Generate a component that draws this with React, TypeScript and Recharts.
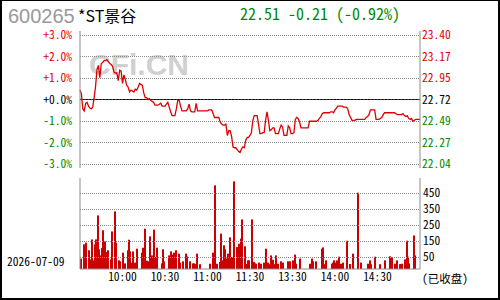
import {
  Bar,
  ComposedChart,
  Line,
  LineChart,
  XAxis,
  YAxis,
} from "recharts";

const STOCK_CODE = "600265";
const STOCK_NAME = "*ST景谷";
const QUOTE_TEXT = "22.51 -0.21 (-0.92%)";
const TRADE_DATE = "2026-07-09";
const STATUS_TEXT = "(已收盘)";
const WATERMARK = "CFi.CN";
const PREV_CLOSE = 22.72;

const PCT_STEPS = [-3, -2, -1, 0, 1, 2, 3];
const VOL_TICKS = [50, 150, 250, 350, 450];
const TIME_TICKS = [30, 60, 90, 120, 150, 180, 210];

// one price per minute: 0..120 = 9:30..11:30, 121..240 = 13:01..15:00
const prices = [
  22.82, 22.78, 22.62, 22.6, 22.68, 22.69, 22.65, 22.63, 22.62, 22.64,
  22.74, 22.86, 23.04, 23.08, 22.95, 23.1, 23.11, 23.13, 23.13, 23.14,
  23.12, 23.1, 23.09, 23.07, 23.01, 23.0, 23.0, 22.92, 23.03, 23.02,
  22.89, 22.98, 22.93, 22.87, 22.85, 22.8, 22.82, 22.81, 22.8, 22.83,
  22.82, 22.85, 22.89, 22.88, 22.87, 22.79, 22.74, 22.74, 22.72, 22.73,
  22.71, 22.7, 22.69, 22.66, 22.66, 22.66, 22.67, 22.68, 22.65, 22.65,
  22.65, 22.67, 22.69, 22.64, 22.59, 22.55, 22.55, 22.55, 22.62, 22.71,
  22.71, 22.65, 22.6, 22.6, 22.6, 22.6, 22.62, 22.67, 22.6, 22.59,
  22.59, 22.59, 22.68, 22.6, 22.6, 22.6, 22.6, 22.6, 22.6, 22.6,
  22.6, 22.61, 22.61, 22.61, 22.57, 22.53, 22.53, 22.53, 22.53, 22.48,
  22.46, 22.45, 22.45, 22.46, 22.34, 22.39, 22.39, 22.33, 22.22, 22.21,
  22.21, 22.19, 22.17, 22.16, 22.2, 22.22, 22.21, 22.29, 22.32, 22.32,
  22.34, 22.37, 22.5, 22.55, 22.55, 22.55, 22.46, 22.36, 22.36, 22.37,
  22.37, 22.5, 22.59, 22.5, 22.39, 22.4, 22.42, 22.42, 22.36, 22.36,
  22.36, 22.41, 22.45, 22.43, 22.34, 22.34, 22.34, 22.44, 22.42, 22.36,
  22.36, 22.37, 22.51, 22.53, 22.52, 22.48, 22.42, 22.42, 22.42, 22.42,
  22.42, 22.42, 22.49, 22.49, 22.49, 22.49, 22.49, 22.49, 22.5, 22.52,
  22.54, 22.57, 22.58, 22.58, 22.58, 22.58, 22.58, 22.59, 22.59, 22.58,
  22.61, 22.63, 22.65, 22.65, 22.65, 22.65, 22.64, 22.64, 22.64, 22.62,
  22.56, 22.53, 22.5, 22.5, 22.5, 22.51, 22.51, 22.51, 22.51, 22.51,
  22.51, 22.51, 22.53, 22.54, 22.56, 22.61, 22.61, 22.61, 22.61, 22.51,
  22.51, 22.51, 22.52, 22.53, 22.56, 22.58, 22.58, 22.58, 22.58, 22.58,
  22.58, 22.58, 22.58, 22.57, 22.56, 22.56, 22.56, 22.56, 22.57, 22.55,
  22.54, 22.55, 22.52, 22.51, 22.52, 22.49, 22.5, 22.51, 22.51, 22.51,
  22.51,
];

const volumes = [
  40, 0, 129, 0, 140, 0, 92, 35, 160, 29,
  129, 160, 310, 98, 60, 106, 217, 148, 81, 92,
  0, 35, 210, 0, 335, 140, 0, 29, 23, 0,
  77, 10, 0, 92, 158, 85, 15, 85, 15, 0,
  102, 0, 0, 77, 108, 227, 0, 27, 23, 179,
  60, 0, 221, 50, 108, 0, 0, 10, 98, 23,
  0, 0, 60, 50, 85, 65, 77, 92, 0, 71,
  15, 0, 23, 0, 71, 54, 0, 23, 0, 10,
  10, 6, 71, 0, 5, 0, 0, 0, 0, 0,
  0, 8, 0, 77, 0, 498, 8, 0, 19, 196,
  29, 123, 98, 40, 71, 173, 23, 50, 523, 0,
  112, 50, 133, 165, 285, 0, 117, 6, 29, 29,
  0, 285, 19, 10, 8, 0, 15, 8, 0, 15,
  0, 102, 15, 5, 60, 0, 33, 5, 60, 8,
  0, 23, 0, 15, 0, 0, 23, 0, 23, 0,
  29, 65, 8, 0, 0, 40, 0, 0, 0, 0,
  0, 0, 8, 40, 23, 0, 23, 0, 0, 0,
  102, 110, 5, 29, 0, 0, 0, 8, 15, 29,
  15, 29, 52, 0, 8, 15, 0, 0, 152, 0,
  6, 0, 71, 0, 0, 0, 452, 0, 15, 0,
  0, 0, 0, 8, 29, 5, 0, 0, 52, 0,
  0, 5, 0, 0, 0, 29, 0, 0, 54, 0,
  48, 0, 8, 29, 0, 5, 5, 8, 0, 35,
  152, 52, 10, 0, 0, 185, 60, 0, 0, 0,
  0,
];

const RED = "#dd0000";
const GREEN = "#008800";
const FRAME = "#8c8c8c";
const MONO = "'Noto Sans Mono CJK SC', 'DejaVu Sans Mono', monospace";
const LABEL_SIZE = 11.5;
// the volume panel's zero sits a few px above the frame, bars still start at the frame
const VOL_BASE = 25;
const PRICE_PLOT_H = 137;
const VOL_PLOT_H = 91;

const rows = prices.map((price, t) => ({ t, price, vol: volumes[t] }));

const priceTicks = PCT_STEPS.map((k) => PREV_CLOSE * (1 + k / 100));
const priceDomain = [priceTicks[0], priceTicks[priceTicks.length - 1]];
const stepOf = (v: number) => Math.round((v / PREV_CLOSE - 1) * 100);
const colorOf = (k: number) => (k > 0 ? RED : k < 0 ? GREEN : "#000");

function timeLabel(t: number) {
  const m = t <= 120 ? 9 * 60 + 30 + t : 13 * 60 + (t - 120);
  return `${Math.floor(m / 60)}:${String(m % 60).padStart(2, "0")}`;
}

function PctTick(props: any) {
  const { x, y, payload } = props;
  const k = stepOf(payload.value);
  return (
    <text x={x} y={y} dy="0.355em" textAnchor="end" fill={colorOf(k)} fontSize={LABEL_SIZE} fontFamily={MONO}>
      {(k >= 0 ? "+" : "-") + Math.abs(k).toFixed(1) + "%"}
    </text>
  );
}

function PriceTick(props: any) {
  const { x, y, payload } = props;
  const k = stepOf(payload.value);
  return (
    <text x={x} y={y} dy="0.355em" textAnchor="start" fill={colorOf(k)} fontSize={LABEL_SIZE} fontFamily={MONO}>
      {payload.value.toFixed(2)}
    </text>
  );
}

const noLabel = () => <g />;

// 2px wide volume bar, left edge on the minute
function VolumeBar(props: any) {
  const { x, y, width, height } = props;
  if (!height || height <= 0) return null;
  const left = Math.round(x + width / 2);
  return <rect x={left} y={y} width={2} height={height} fill="#cc0000" />;
}

const dotted = { stroke: FRAME, strokeDasharray: "1 1", shapeRendering: "crispEdges" };
const tickText = { fill: "#000", fontSize: LABEL_SIZE, fontFamily: MONO };

export default function App() {
  return (
    <div style={{ position: "absolute", left: 0, top: 0, width: 500, height: 300, background: "#fff" }}>
      <div
        style={{
          position: "absolute",
          left: 0,
          top: 0,
          width: 500,
          height: 300,
          boxSizing: "border-box",
          borderTop: "1px solid #000",
          borderLeft: "2px solid #000",
          borderRight: "2px solid #000",
          borderBottom: "2px solid #000",
        }}
      />
      <div
        style={{
          position: "absolute",
          left: 89,
          top: 50,
          fontSize: 30,
          lineHeight: "30px",
          fontWeight: "bold",
          fontFamily: "'Liberation Sans', Arial",
          color: "#d0d0d0",
          whiteSpace: "nowrap",
        }}
      >
        {WATERMARK}
      </div>

      <div style={{ position: "absolute", left: 0, top: 0 }}>
        <LineChart width={500} height={170} data={rows} margin={{ top: 31, right: 0, bottom: 2, left: 0 }}>
          {/* bottom axis: its mirrored tick lines are the dotted time grid */}
          <XAxis
            xAxisId="t"
            dataKey="t"
            type="number"
            domain={[0, 240]}
            ticks={TIME_TICKS}
            interval={0}
            mirror
            tick={noLabel}
            tickSize={PRICE_PLOT_H}
            tickLine={dotted}
            height={0}
            axisLine={{ stroke: FRAME }}
          />
          <XAxis xAxisId="top" orientation="top" dataKey="t" type="number" domain={[0, 240]} tick={false} tickLine={false} height={0} axisLine={{ stroke: FRAME }} />
          <YAxis
            yAxisId="pct"
            width={80}
            type="number"
            domain={priceDomain}
            ticks={priceTicks}
            interval={0}
            padding={{ top: 4, bottom: 4 }}
            tick={<PctTick />}
            tickLine={false}
            tickSize={0}
            tickMargin={8}
            axisLine={{ stroke: FRAME }}
          />
          <YAxis
            yAxisId="price"
            orientation="right"
            width={80}
            type="number"
            domain={priceDomain}
            ticks={priceTicks}
            interval={0}
            padding={{ top: 4, bottom: 4 }}
            tick={<PriceTick />}
            tickLine={false}
            tickSize={0}
            tickMargin={2}
            axisLine={{ stroke: FRAME }}
          />
          {/* dotted price grid */}
          {priceTicks
            .filter((v) => stepOf(v) !== 0)
            .map((v) => (
              <Line
                key={`g${v}`}
                xAxisId="t"
                yAxisId="pct"
                type="linear"
                dataKey={() => v}
                strokeWidth={1}
                {...dotted}
                dot={false}
                activeDot={false}
                isAnimationActive={false}
              />
            ))}
          {/* previous close line */}
          <Line
            xAxisId="t"
            yAxisId="price"
            type="linear"
            dataKey={() => PREV_CLOSE}
            stroke="#000"
            strokeWidth={1}
            dot={false}
            isAnimationActive={false}
          />
          <Line
            xAxisId="t"
            yAxisId="pct"
            type="linear"
            dataKey="price"
            stroke={RED}
            strokeWidth={1.3}
            dot={false}
            isAnimationActive={false}
          />
        </LineChart>
      </div>

      <div style={{ position: "absolute", left: 0, top: 171 }}>
        <ComposedChart width={500} height={129} data={rows} margin={{ top: 7, right: 0, bottom: 0, left: 0 }} barCategoryGap={0}>
          <XAxis
            xAxisId="t"
            dataKey="t"
            type="number"
            domain={[0, 240]}
            ticks={TIME_TICKS}
            interval={0}
            tickFormatter={timeLabel}
            tick={tickText}
            tickLine={false}
            tickSize={0}
            tickMargin={4}
            height={31}
            axisLine={{ stroke: FRAME }}
          />
          {/* top axis: its mirrored tick lines are the dotted time grid */}
          <XAxis
            xAxisId="top"
            orientation="top"
            dataKey="t"
            type="number"
            domain={[0, 240]}
            ticks={TIME_TICKS}
            interval={0}
            mirror
            tick={noLabel}
            tickSize={VOL_PLOT_H}
            tickLine={dotted}
            height={0}
            axisLine={{ stroke: FRAME }}
          />
          <YAxis yAxisId="left" width={80} tick={false} tickLine={false} axisLine={{ stroke: FRAME }} domain={[0, 569]} />
          <YAxis
            yAxisId="vol"
            orientation="right"
            width={80}
            type="number"
            domain={[0, 569]}
            ticks={VOL_TICKS.map((v) => v + VOL_BASE)}
            interval={0}
            tickFormatter={(v: number) => String(v - VOL_BASE)}
            tick={tickText}
            tickLine={false}
            tickSize={0}
            tickMargin={3}
            axisLine={{ stroke: FRAME }}
          />
          {/* dotted volume grid */}
          {VOL_TICKS.map((v) => (
            <Line
              key={`vg${v}`}
              xAxisId="top"
              yAxisId="vol"
              type="linear"
              dataKey={() => v + VOL_BASE}
              strokeWidth={1}
              {...dotted}
              dot={false}
              activeDot={false}
              isAnimationActive={false}
            />
          ))}
          <Bar
            xAxisId="t"
            yAxisId="vol"
            dataKey={(d: { vol: number }) => (d.vol > 0 ? d.vol + VOL_BASE : null)}
            fill="#cc0000"
            shape={<VolumeBar />}
            isAnimationActive={false}
          />
        </ComposedChart>
      </div>

      <svg width={500} height={300} style={{ position: "absolute", left: 0, top: 0, pointerEvents: "none" }}>
        <text x={8} y={23} fontSize={20} fontFamily="'Liberation Sans', Arial" fill="#999">
          {STOCK_CODE}
        </text>
        <text x={78} y={22} fontSize={16} fontFamily="'Noto Sans CJK SC'" fill="#000">
          {STOCK_NAME}
        </text>
        <text x={240} y={20} fontSize={16} fontFamily={MONO} fill={GREEN}>
          {QUOTE_TEXT}
        </text>
        <text x={7} y={266} fontSize={LABEL_SIZE} fontFamily={MONO} fill="#000">
          {TRADE_DATE}
        </text>
        <text x={422} y={283} fontSize={LABEL_SIZE} fontFamily={MONO} fill="#000">
          {STATUS_TEXT}
        </text>
      </svg>
    </div>
  );
}
